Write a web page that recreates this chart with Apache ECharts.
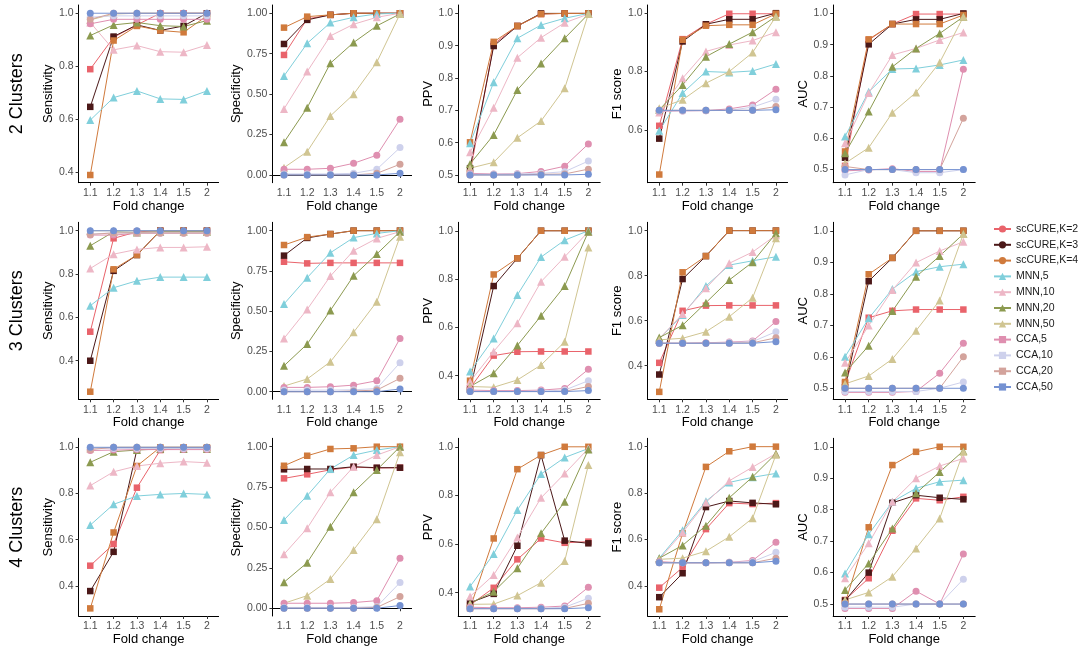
<!DOCTYPE html>
<html><head><meta charset="utf-8">
<script src="https://cdn.jsdelivr.net/npm/echarts@6/dist/echarts.min.js"></script>
<style>html,body{margin:0;padding:0;background:#fff}#chart{width:1080px;height:651px}</style>
</head><body><div id="chart"></div>
<script>
// ---------------- data ----------------
const categories = ['1.1', '1.2', '1.3', '1.4', '1.5', '2'];
const seriesNames = ['scCURE,K=2', 'scCURE,K=3', 'scCURE,K=4', 'MNN,5', 'MNN,10', 'MNN,20', 'MNN,50', 'CCA,5', 'CCA,10', 'CCA,20', 'CCA,50'];
const rowLabels = ['2 Clusters', '3 Clusters', '4 Clusters'];
const metricNames = ['Sensitivity', 'Specificity', 'PPV', 'F1 score', 'AUC'];
const xTitle = 'Fold change';

// tick label values
const ticksSens = [0.4, 0.6, 0.8, 1.0];
const ticksSpec = [0, 0.25, 0.5, 0.75, 1.0];
const ticksHalf = [0.5, 0.6, 0.7, 0.8, 0.9, 1.0];
const ticksF1Top = [0.6, 0.8, 1.0];

// ---- 2 clusters (rows: series in seriesNames order, cols: categories) ----
const sens2 = [
  [0.789, 0.909, 0.956, 1.0, 1.0, 1.0],
  [0.647, 0.912, 0.956, 0.935, 0.952, 1.0],
  [0.39, 0.897, 0.952, 0.935, 0.928, 0.99],
  [0.597, 0.682, 0.707, 0.677, 0.675, 0.707],
  [0.965, 0.862, 0.878, 0.855, 0.853, 0.88],
  [0.916, 0.956, 0.965, 0.953, 0.95, 0.972],
  [0.975, 0.997, 1.0, 1.0, 1.0, 1.0],
  [0.96, 0.977, 0.977, 0.977, 0.977, 0.977],
  [0.985, 0.99, 0.99, 0.99, 0.99, 0.99],
  [0.977, 1.0, 1.0, 1.0, 1.0, 1.0],
  [1.0, 1.0, 1.0, 1.0, 1.0, 1.0]
];
const spec2 = [
  [0.742, 0.965, 0.99, 1, 1, 1],
  [0.81, 0.959, 0.99, 1, 1, 1],
  [0.911, 0.979, 0.99, 1, 1, 1],
  [0.612, 0.814, 0.942, 0.975, 0.996, 1],
  [0.408, 0.639, 0.86, 0.932, 0.975, 1],
  [0.202, 0.416, 0.691, 0.819, 0.922, 0.996],
  [0.045, 0.144, 0.365, 0.499, 0.697, 0.996],
  [0.035, 0.035, 0.041, 0.072, 0.122, 0.344],
  [0.006, 0.006, 0.006, 0.01, 0.035, 0.169],
  [0, 0, 0, 0, 0.01, 0.066],
  [0, 0, 0, 0, 0, 0.01]
];
const ppv2 = [
  [0.505, 0.905, 0.961, 0.998, 1, 1],
  [0.521, 0.899, 0.961, 1, 1, 1],
  [0.601, 0.912, 0.961, 0.998, 1, 1],
  [0.598, 0.787, 0.923, 0.964, 0.985, 1],
  [0.57, 0.708, 0.863, 0.925, 0.971, 0.998],
  [0.534, 0.624, 0.763, 0.845, 0.923, 0.998],
  [0.521, 0.539, 0.615, 0.667, 0.768, 0.998],
  [0.505, 0.503, 0.504, 0.511, 0.527, 0.596],
  [0.502, 0.502, 0.503, 0.505, 0.51, 0.543],
  [0.5, 0.5, 0.5, 0.502, 0.503, 0.518],
  [0.5, 0.5, 0.5, 0.5, 0.5, 0.502]
];
const f1s2 = [
  [0.614, 0.911, 0.962, 0.998, 0.998, 0.998],
  [0.57, 0.903, 0.962, 0.979, 0.979, 1.0],
  [0.447, 0.909, 0.957, 0.96, 0.96, 0.998],
  [0.597, 0.726, 0.8, 0.797, 0.802, 0.826],
  [0.66, 0.777, 0.869, 0.891, 0.906, 0.935],
  [0.669, 0.754, 0.851, 0.894, 0.935, 0.989],
  [0.674, 0.703, 0.76, 0.8, 0.865, 0.989],
  [0.663, 0.665, 0.666, 0.672, 0.685, 0.739],
  [0.665, 0.665, 0.666, 0.667, 0.678, 0.705],
  [0.667, 0.667, 0.667, 0.667, 0.667, 0.68],
  [0.667, 0.667, 0.667, 0.667, 0.667, 0.669]
];
const auc2 = [
  [0.512, 0.915, 0.966, 0.998, 0.998, 0.998],
  [0.538, 0.901, 0.966, 0.981, 0.981, 1.0],
  [0.558, 0.917, 0.966, 0.966, 0.966, 0.995],
  [0.606, 0.749, 0.822, 0.824, 0.835, 0.851],
  [0.584, 0.745, 0.867, 0.888, 0.915, 0.939],
  [0.552, 0.686, 0.829, 0.888, 0.936, 0.989],
  [0.52, 0.57, 0.682, 0.747, 0.843, 0.989],
  [0.496, 0.499, 0.503, 0.494, 0.494, 0.821],
  [0.483, 0.5, 0.5, 0.49, 0.49, 0.5],
  [0.51, 0.5, 0.5, 0.5, 0.5, 0.664],
  [0.5, 0.5, 0.5, 0.5, 0.5, 0.5]
];

// ---- 3 clusters ----
const sens3 = [
  [0.534, 0.965, 0.995, 1, 1, 1],
  [0.4, 0.815, 0.888, 1, 1, 1],
  [0.257, 0.822, 0.888, 1, 1, 1],
  [0.654, 0.737, 0.769, 0.786, 0.786, 0.786],
  [0.826, 0.892, 0.914, 0.923, 0.923, 0.926],
  [0.931, 0.995, 0.992, 0.995, 0.995, 0.995],
  [1, 1, 1, 1, 1, 1],
  [0.98, 0.98, 0.988, 0.988, 0.988, 0.988],
  [0.985, 0.99, 0.99, 0.99, 0.99, 0.99],
  [0.983, 0.99, 0.99, 0.99, 0.99, 0.99],
  [1, 1, 1, 1, 1, 1]
];
const spec3 = [
  [0.807, 0.797, 0.8, 0.8, 0.8, 0.8],
  [0.845, 0.955, 0.979, 1, 1, 1],
  [0.911, 0.96, 0.979, 1, 1, 1],
  [0.545, 0.708, 0.863, 0.957, 0.983, 1],
  [0.331, 0.511, 0.718, 0.876, 0.952, 0.994],
  [0.161, 0.296, 0.505, 0.72, 0.855, 0.994],
  [0.035, 0.079, 0.186, 0.369, 0.559, 0.963],
  [0.027, 0.027, 0.031, 0.041, 0.068, 0.331],
  [0.01, 0.01, 0.01, 0.012, 0.02, 0.18],
  [0, 0, 0, 0.005, 0.01, 0.083],
  [0, 0, 0, 0, 0, 0.017]
];
const ppv3 = [
  [0.348, 0.483, 0.499, 0.5, 0.5, 0.5],
  [0.341, 0.771, 0.886, 1, 1, 1],
  [0.379, 0.819, 0.886, 1, 1, 1],
  [0.417, 0.554, 0.734, 0.891, 0.961, 1],
  [0.375, 0.5, 0.617, 0.789, 0.892, 0.996],
  [0.355, 0.41, 0.525, 0.648, 0.771, 0.996],
  [0.355, 0.352, 0.382, 0.444, 0.54, 0.931],
  [0.34, 0.338, 0.338, 0.34, 0.347, 0.426],
  [0.335, 0.335, 0.335, 0.336, 0.34, 0.379],
  [0.334, 0.334, 0.334, 0.334, 0.335, 0.355],
  [0.334, 0.334, 0.334, 0.334, 0.334, 0.338]
];
const f1s3 = [
  [0.413, 0.644, 0.667, 0.668, 0.668, 0.668],
  [0.361, 0.785, 0.887, 1, 1, 1],
  [0.284, 0.815, 0.887, 1, 1, 1],
  [0.52, 0.625, 0.754, 0.847, 0.866, 0.884],
  [0.52, 0.63, 0.744, 0.855, 0.905, 0.98],
  [0.525, 0.58, 0.68, 0.781, 0.86, 0.988],
  [0.515, 0.522, 0.551, 0.618, 0.702, 0.966],
  [0.5, 0.5, 0.502, 0.505, 0.51, 0.596],
  [0.5, 0.5, 0.5, 0.503, 0.507, 0.551],
  [0.5, 0.5, 0.5, 0.5, 0.502, 0.524],
  [0.5, 0.5, 0.5, 0.5, 0.5, 0.507]
];
const auc3 = [
  [0.516, 0.724, 0.746, 0.75, 0.75, 0.75],
  [0.503, 0.84, 0.914, 1, 1, 1],
  [0.52, 0.862, 0.914, 1, 1, 1],
  [0.6, 0.722, 0.815, 0.87, 0.886, 0.894],
  [0.581, 0.699, 0.812, 0.899, 0.936, 0.965],
  [0.55, 0.635, 0.745, 0.854, 0.92, 0.99],
  [0.514, 0.539, 0.593, 0.683, 0.779, 0.99],
  [0.487, 0.487, 0.487, 0.49, 0.548, 0.643],
  [0.49, 0.49, 0.49, 0.49, 0.5, 0.52],
  [0.5, 0.5, 0.5, 0.5, 0.5, 0.6],
  [0.5, 0.5, 0.5, 0.5, 0.5, 0.5]
];

// ---- 4 clusters ----
const sens4 = [
  [0.487, 0.581, 0.825, 0.988, 0.996, 0.996],
  [0.377, 0.547, 0.99, 0.993, 0.996, 0.996],
  [0.302, 0.631, 0.919, 1, 1, 1],
  [0.663, 0.753, 0.789, 0.796, 0.8, 0.796],
  [0.834, 0.894, 0.919, 0.931, 0.938, 0.933],
  [0.935, 0.981, 0.988, 0.993, 0.993, 0.993],
  [0.995, 1, 1, 1, 1, 1],
  [0.986, 0.988, 0.99, 0.99, 0.99, 0.99],
  [0.995, 0.995, 0.995, 0.995, 0.995, 0.995],
  [0.99, 1, 1, 1, 1, 1],
  [1, 1, 1, 1, 1, 1]
];
const spec4 = [
  [0.804, 0.829, 0.857, 0.874, 0.868, 0.87],
  [0.86, 0.862, 0.862, 0.876, 0.87, 0.87],
  [0.882, 0.944, 0.986, 0.99, 1, 1],
  [0.546, 0.697, 0.862, 0.948, 0.979, 1],
  [0.334, 0.495, 0.718, 0.876, 0.948, 1],
  [0.161, 0.282, 0.505, 0.718, 0.856, 1],
  [0.031, 0.078, 0.181, 0.361, 0.551, 0.965],
  [0.031, 0.031, 0.031, 0.035, 0.047, 0.309],
  [0.005, 0.005, 0.005, 0.005, 0.01, 0.159],
  [0, 0, 0, 0, 0.005, 0.072],
  [0, 0, 0, 0, 0, 0.017]
];
const ppv4 = [
  [0.349, 0.42, 0.537, 0.623, 0.605, 0.61],
  [0.359, 0.395, 0.593, 0.966, 0.614, 0.603],
  [0.336, 0.623, 0.908, 0.966, 1, 1],
  [0.425, 0.559, 0.74, 0.888, 0.956, 0.993],
  [0.384, 0.473, 0.627, 0.79, 0.89, 0.993],
  [0.356, 0.404, 0.5, 0.644, 0.774, 0.989],
  [0.352, 0.353, 0.388, 0.441, 0.53, 0.925],
  [0.34, 0.338, 0.338, 0.34, 0.345, 0.422],
  [0.335, 0.335, 0.335, 0.336, 0.34, 0.377],
  [0.334, 0.334, 0.334, 0.334, 0.335, 0.356],
  [0.334, 0.334, 0.334, 0.334, 0.334, 0.338]
];
const f1s4 = [
  [0.393, 0.48, 0.645, 0.757, 0.753, 0.757],
  [0.352, 0.455, 0.74, 0.766, 0.758, 0.752],
  [0.30, 0.627, 0.913, 0.98, 1.0, 1.0],
  [0.52, 0.64, 0.765, 0.846, 0.868, 0.885],
  [0.515, 0.63, 0.76, 0.853, 0.912, 0.97],
  [0.52, 0.575, 0.66, 0.78, 0.87, 0.97],
  [0.515, 0.52, 0.55, 0.612, 0.692, 0.965],
  [0.505, 0.5, 0.5, 0.502, 0.51, 0.588],
  [0.5, 0.5, 0.5, 0.502, 0.505, 0.545],
  [0.5, 0.5, 0.5, 0.5, 0.5, 0.52],
  [0.5, 0.5, 0.5, 0.5, 0.5, 0.507]
];
const auc4 = [
  [0.513, 0.582, 0.733, 0.836, 0.83, 0.841],
  [0.511, 0.6, 0.822, 0.846, 0.838, 0.833],
  [0.502, 0.744, 0.942, 0.984, 1, 1],
  [0.597, 0.722, 0.825, 0.868, 0.889, 0.894],
  [0.582, 0.693, 0.825, 0.9, 0.939, 0.963],
  [0.545, 0.629, 0.74, 0.852, 0.92, 0.987],
  [0.513, 0.537, 0.587, 0.677, 0.772, 0.984],
  [0.486, 0.486, 0.486, 0.541, 0.5, 0.659],
  [0.49, 0.49, 0.49, 0.5, 0.5, 0.579],
  [0.5, 0.5, 0.5, 0.5, 0.5, 0.5],
  [0.5, 0.5, 0.5, 0.5, 0.5, 0.5]
];

const panelData = [
  [sens2, spec2, ppv2, f1s2, auc2],
  [sens3, spec3, ppv3, f1s3, auc3],
  [sens4, spec4, ppv4, f1s4, auc4]
];
const panelTicks = [
  [ticksSens, ticksSpec, ticksHalf, ticksF1Top, ticksHalf],
  [ticksSens, ticksSpec, ticksSens, ticksSens, ticksHalf],
  [ticksSens, ticksSpec, ticksSens, ticksSens, ticksHalf]
];

// ---------------- layout & style ----------------
const FONT = '"Liberation Sans", Arial, Helvetica, sans-serif';
const colors = ['#E9636B', '#4B1818', '#D07A3C', '#80CFDB', '#EDB7C6', '#8C9A50', '#D0C592', '#DF8FB0', '#CED1EC', '#D3A39C', '#7592D2'];
const plotSymbols = ['rect', 'rect', 'rect', 'triangle', 'triangle', 'triangle', 'triangle', 'circle', 'circle', 'circle', 'circle'];
const legendSymbols = ['circle', 'circle', 'circle', 'triangle', 'triangle', 'triangle', 'triangle', 'rect', 'rect', 'rect', 'rect'];
const symbolSizes = { rect: 6.5, triangle: 8, circle: 7 };

const rowTop = [5, 222.3, 438.3];
const rowBottom = [182.7, 399.3, 616];
const colLeft = [78.6, 272.4, 458.2, 647.6, 833.2];
const colWidth = [140, 139.2, 142, 140, 142];
const yNameGap = [23, 28, 21, 23, 19];
const yRanges = [
  [[0.361, 1.031], [-0.048, 1.051], [0.476, 1.026], [0.419, 1.028], [0.458, 1.027]],
  [[0.222, 1.039], [-0.047, 1.052], [0.302, 1.035], [0.251, 1.037], [0.465, 1.027]],
  [[0.269, 1.039], [-0.048, 1.052], [0.304, 1.035], [0.271, 1.036], [0.462, 1.027]]
];

const grids = [], xAxes = [], yAxes = [], series = [];

// legend-only entries (shapes as in the reference legend)
seriesNames.forEach((name, k) => {
  series.push({
    type: 'line', name: name, xAxisIndex: 0, yAxisIndex: 0, data: [],
    symbol: legendSymbols[k], symbolSize: 7,
    itemStyle: { color: colors[k] }, lineStyle: { color: colors[k], width: 1.2 }
  });
});

let idx = 0;
for (let r = 0; r < 3; r++) {
  for (let c = 0; c < 5; c++) {
    grids.push({
      left: colLeft[c], top: rowTop[r], width: colWidth[c], height: rowBottom[r] - rowTop[r],
      containLabel: false, outerBoundsMode: 'none'
    });
    xAxes.push({
      gridIndex: idx, type: 'category', data: categories, boundaryGap: true,
      name: xTitle, nameLocation: 'middle', nameGap: 14,
      nameTextStyle: { fontSize: 13, color: '#000', fontFamily: FONT },
      axisLine: { show: true, lineStyle: { color: '#000', width: 1 } },
      axisTick: { show: true, alignWithLabel: true, length: 3, lineStyle: { color: '#333', width: 1 } },
      axisLabel: { interval: 0, fontSize: 10.5, color: '#4d4d4d', fontFamily: FONT, margin: 5 },
      splitLine: { show: false }
    });
    const ticks = panelTicks[r][c];
    const dec = c === 1 ? 2 : 1;
    yAxes.push({
      gridIndex: idx, type: 'value', min: yRanges[r][c][0], max: yRanges[r][c][1],
      name: metricNames[c], nameLocation: 'middle', nameGap: yNameGap[c],
      nameTextStyle: { fontSize: 13, color: '#000', fontFamily: FONT },
      axisLine: { show: true, lineStyle: { color: '#000', width: 1 } },
      axisTick: { show: true, length: 3, customValues: ticks, lineStyle: { color: '#333', width: 1 } },
      axisLabel: {
        customValues: ticks, fontSize: 10.5, color: '#4d4d4d', fontFamily: FONT, margin: 5,
        formatter: v => Number(v).toFixed(dec)
      },
      splitLine: { show: false }
    });
    const pd = panelData[r][c];
    // lines first (underneath), then points
    seriesNames.forEach((name, k) => {
      series.push({
        type: 'line', name: name, xAxisIndex: idx, yAxisIndex: idx,
        data: pd[k], showSymbol: false, symbol: 'none', z: 2,
        lineStyle: { color: colors[k], width: 1 }, itemStyle: { color: colors[k] },
        emphasis: { disabled: true }
      });
    });
    seriesNames.forEach((name, k) => {
      series.push({
        type: 'scatter', name: name, xAxisIndex: idx, yAxisIndex: idx,
        data: pd[k].map((v, i) => [categories[i], v]),
        symbol: plotSymbols[k], symbolSize: symbolSizes[plotSymbols[k]], z: 3,
        itemStyle: { color: colors[k], opacity: 1 },
        emphasis: { disabled: true }
      });
    });
    idx++;
  }
}

const graphic = rowLabels.map((t, r) => ({
  type: 'text', x: 17, y: (rowTop[r] + rowBottom[r]) / 2, rotation: Math.PI / 2,
  style: {
    text: t, fill: '#000', fontSize: 18, fontFamily: FONT,
    textAlign: 'center', textVerticalAlign: 'middle', align: 'center', verticalAlign: 'middle'
  }
}));

const chart = echarts.init(document.getElementById('chart'), null, { renderer: 'canvas' });
chart.setOption({
  backgroundColor: '#fff',
  animation: false,
  textStyle: { fontFamily: FONT },
  legend: {
    data: seriesNames, orient: 'vertical', left: 993, top: 223, padding: 0,
    itemWidth: 17, itemHeight: 9, itemGap: 3.8, selectedMode: false,
    textStyle: { fontSize: 10.5, color: '#1a1a1a', fontFamily: FONT, lineHeight: 12, overflow: 'none', width: 80 }
  },
  grid: grids, xAxis: xAxes, yAxis: yAxes, series: series, graphic: graphic
});
</script></body></html>
